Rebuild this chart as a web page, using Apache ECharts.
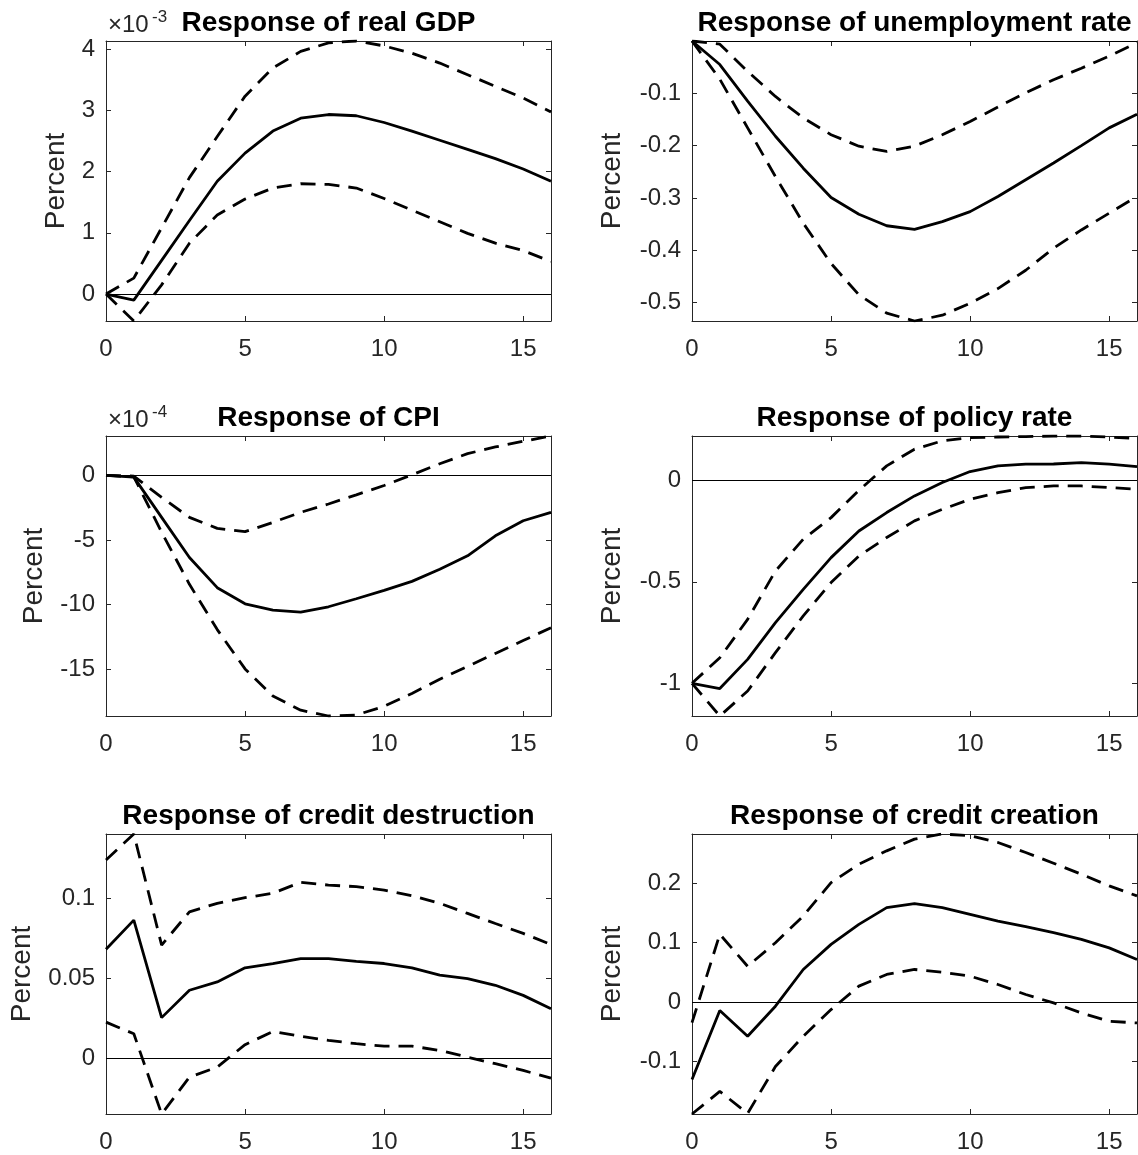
<!DOCTYPE html>
<html>
<head>
<meta charset="utf-8">
<script src="https://cdn.jsdelivr.net/npm/echarts@6/dist/echarts.min.js"></script>
<style>
html, body { margin: 0; padding: 0; background: #fff; }
#chartmain { width: 1138px; height: 1155px; }
</style>
</head>
<body>
<div id="chartmain"></div>
<script>
// quarters after the shock
var horizon = [0, 1, 2, 3, 4, 5, 6, 7, 8, 9, 10, 11, 12, 13, 14, 15, 16];
var xTicks = [0, 5, 10, 15];

// real GDP (x 10^-3)
var gdpMid = [0, -0.1, 0.55, 1.2, 1.84, 2.30, 2.66, 2.87, 2.93, 2.91, 2.80, 2.66, 2.51, 2.36, 2.21, 2.04, 1.84];
var gdpHi = [0, 0.26, 1.08, 1.90, 2.57, 3.23, 3.69, 3.96, 4.10, 4.13, 4.05, 3.93, 3.77, 3.58, 3.39, 3.20, 2.97];
var gdpLo = [0, -0.44, 0.15, 0.83, 1.29, 1.55, 1.73, 1.80, 1.79, 1.73, 1.56, 1.37, 1.18, 0.99, 0.83, 0.71, 0.53];
var gdpTicks = [0, 1, 2, 3, 4];

// unemployment rate
var unMid = [0, -0.045, -0.115, -0.182, -0.243, -0.299, -0.331, -0.353, -0.360, -0.345, -0.326, -0.297, -0.265, -0.233, -0.200, -0.166, -0.140];
var unHi = [0, -0.006, -0.058, -0.106, -0.147, -0.179, -0.201, -0.211, -0.201, -0.179, -0.154, -0.126, -0.099, -0.074, -0.052, -0.029, -0.003];
var unLo = [0, -0.073, -0.166, -0.259, -0.348, -0.425, -0.485, -0.520, -0.535, -0.524, -0.501, -0.473, -0.438, -0.396, -0.361, -0.329, -0.297];
var unTicks = [-0.5, -0.4, -0.3, -0.2, -0.1];

// CPI (x 10^-4)
var cpiMid = [0, -0.13, -3.25, -6.36, -8.7, -9.95, -10.44, -10.6, -10.18, -9.56, -8.91, -8.21, -7.27, -6.23, -4.68, -3.51, -2.86];
var cpiHi = [0, -0.05, -1.7, -3.25, -4.1, -4.36, -3.64, -2.86, -2.21, -1.5, -0.78, 0.05, 0.91, 1.69, 2.21, 2.65, 3.06];
var cpiLo = [0, -0.1, -4.4, -8.44, -11.95, -15.0, -17.1, -18.2, -18.65, -18.57, -17.9, -16.9, -15.8, -14.8, -13.8, -12.8, -11.8];
var cpiTicks = [-15, -10, -5, 0];

// policy rate
var polMid = [-1, -1.026, -0.882, -0.701, -0.537, -0.381, -0.25, -0.159, -0.077, -0.011, 0.043, 0.071, 0.079, 0.080, 0.087, 0.079, 0.067];
var polHi = [-1, -0.874, -0.685, -0.447, -0.29, -0.184, -0.05, 0.071, 0.153, 0.194, 0.21, 0.213, 0.215, 0.218, 0.218, 0.213, 0.205];
var polLo = [-1, -1.161, -1.038, -0.849, -0.668, -0.504, -0.373, -0.282, -0.2, -0.143, -0.094, -0.061, -0.036, -0.028, -0.028, -0.036, -0.044];
var polTicks = [-1, -0.5, 0];

// credit destruction
var deMid = [0.068, 0.0862, 0.0253, 0.0424, 0.0476, 0.0564, 0.0591, 0.0622, 0.0622, 0.0605, 0.0591, 0.0564, 0.0518, 0.0497, 0.0455, 0.0392, 0.0309];
var deHi = [0.1238, 0.14, 0.0706, 0.0914, 0.0967, 0.1002, 0.103, 0.1098, 0.1081, 0.1071, 0.105, 0.1015, 0.0967, 0.0904, 0.0841, 0.0779, 0.071];
var deLo = [0.0225, 0.0152, -0.0349, -0.0119, -0.0056, 0.0084, 0.0167, 0.0136, 0.0111, 0.009, 0.0075, 0.0075, 0.0048, 0.0006, -0.0035, -0.0077, -0.0125];
var deTicks = [0, 0.05, 0.1];

// credit creation
var crMid = [-0.131, -0.0146, -0.058, -0.0073, 0.0546, 0.0969, 0.1307, 0.1589, 0.1656, 0.1589, 0.1476, 0.1363, 0.1268, 0.1166, 0.1054, 0.091, 0.0715];
var crHi = [-0.035, 0.114, 0.060, 0.0997, 0.1448, 0.2011, 0.2321, 0.2546, 0.2744, 0.283, 0.280, 0.2687, 0.2518, 0.2338, 0.2152, 0.1955, 0.1786];
var crLo = [-0.189, -0.151, -0.188, -0.109, -0.058, -0.013, 0.0265, 0.0462, 0.0546, 0.0501, 0.0434, 0.0293, 0.0124, -0.0017, -0.0186, -0.0327, -0.0355];
var crTicks = [-0.1, 0, 0.1, 0.2];

var panels = [
  { title: 'Response of real GDP', mid: gdpMid, hi: gdpHi, lo: gdpLo, ticks: gdpTicks, left: 106, top: 41, nameGap: 36, exp: '-3' },
  { title: 'Response of unemployment rate', mid: unMid, hi: unHi, lo: unLo, ticks: unTicks, left: 692, top: 41, nameGap: 66 },
  { title: 'Response of CPI', mid: cpiMid, hi: cpiHi, lo: cpiLo, ticks: cpiTicks, left: 106, top: 436, nameGap: 58, exp: '-4' },
  { title: 'Response of policy rate', mid: polMid, hi: polHi, lo: polLo, ticks: polTicks, left: 692, top: 436, nameGap: 66 },
  { title: 'Response of credit destruction', mid: deMid, hi: deHi, lo: deLo, ticks: deTicks, left: 106, top: 834, nameGap: 70 },
  { title: 'Response of credit creation', mid: crMid, hi: crHi, lo: crLo, ticks: crTicks, left: 692, top: 834, nameGap: 66 }
];

var W = 445, H = 280;
var font = 'Liberation Sans, Arial, Helvetica, sans-serif';
var axisColor = '#262626';

function pairs(arr) {
  return horizon.map(function (x, k) { return [x, arr[k]]; });
}

var grids = [], xAxes = [], yAxes = [], series = [], titles = [];

panels.forEach(function (p, i) {
  var all = p.lo.concat(p.mid, p.hi);
  var ymin = Math.min.apply(null, all);
  var ymax = Math.max.apply(null, all);

  grids.push({ left: p.left, top: p.top, width: W, height: H });

  ['bottom', 'top'].forEach(function (pos) {
    xAxes.push({
      type: 'value', gridIndex: i, position: pos, min: 0, max: 16,
      axisLine: { show: true, onZero: false, lineStyle: { color: axisColor, width: 1 } },
      axisTick: { show: true, inside: true, length: 5, customValues: xTicks, lineStyle: { color: axisColor } },
      axisLabel: { show: pos === 'bottom', customValues: xTicks, fontSize: 24, color: axisColor, fontFamily: font, margin: 16 },
      splitLine: { show: false }
    });
  });

  ['left', 'right'].forEach(function (pos) {
    var ax = {
      type: 'value', gridIndex: i, position: pos, min: ymin, max: ymax,
      axisLine: { show: true, onZero: false, lineStyle: { color: axisColor, width: 1 } },
      axisTick: { show: true, inside: true, length: 5, customValues: p.ticks, lineStyle: { color: axisColor } },
      axisLabel: { show: pos === 'left', customValues: p.ticks, fontSize: 24, color: axisColor, fontFamily: font, margin: 11 },
      splitLine: { show: false }
    };
    if (pos === 'left') {
      ax.name = 'Percent';
      ax.nameLocation = 'middle';
      ax.nameGap = p.nameGap;
      ax.nameTextStyle = { fontSize: 28, color: axisColor, fontFamily: font };
    }
    yAxes.push(ax);
  });

  var base = { type: 'line', xAxisIndex: 2 * i, yAxisIndex: 2 * i, symbol: 'none', showSymbol: false, animation: false, silent: true };

  series.push(Object.assign({}, base, {
    data: pairs(p.mid),
    lineStyle: { color: '#000', width: 2.8, type: 'solid' },
    markLine: {
      silent: true, symbol: ['none', 'none'], label: { show: false }, animation: false,
      lineStyle: { color: '#000', width: 1.2, type: 'solid' },
      data: [{ yAxis: 0 }]
    }
  }));
  [p.hi, p.lo].forEach(function (band) {
    series.push(Object.assign({}, base, {
      data: pairs(band),
      lineStyle: { color: '#000', width: 2.8, type: [15, 9] }
    }));
  });

  titles.push({
    text: p.title, left: p.left + W / 2, top: p.top - 32, textAlign: 'center', padding: 0,
    textStyle: { fontSize: 28, fontWeight: 'bold', color: '#000', fontFamily: font }
  });
  if (p.exp) {
    titles.push({
      text: '\u00d710', left: p.left + 2, top: p.top - 28, padding: 0,
      textStyle: { fontSize: 24, fontWeight: 'normal', color: axisColor, fontFamily: font }
    });
    titles.push({
      text: p.exp, left: p.left + 46, top: p.top - 32, padding: 0,
      textStyle: { fontSize: 17, fontWeight: 'normal', color: axisColor, fontFamily: font }
    });
  }
});

var myChart = echarts.init(document.getElementById('chartmain'));
myChart.setOption({
  backgroundColor: '#fff',
  animation: false,
  title: titles,
  grid: grids,
  xAxis: xAxes,
  yAxis: yAxes,
  series: series
});
</script>
</body>
</html>
